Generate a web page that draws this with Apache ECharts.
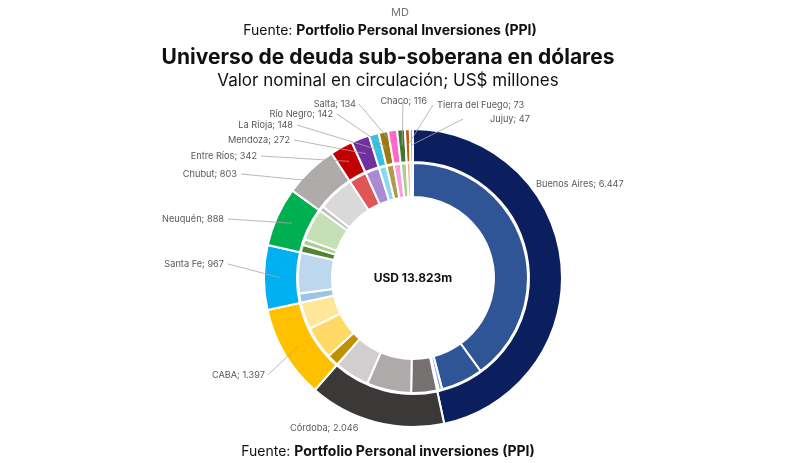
<!DOCTYPE html>
<html>
<head>
<meta charset="utf-8">
<script src="https://cdn.jsdelivr.net/npm/echarts@6/dist/echarts.min.js"></script>
<style>
  html, body { margin: 0; padding: 0; background: #fff; }
  #chart { width: 800px; height: 463px; }
</style>
</head>
<body>
<div id="chart"></div>
<script>
// provincias (anillo exterior), sentido horario desde arriba
var provinces = ['Buenos Aires', 'Córdoba', 'CABA', 'Santa Fe', 'Neuquén', 'Chubut', 'Entre Ríos',
    'Mendoza', 'La Rioja', 'Río Negro', 'Salta', 'Chaco', 'Tierra del Fuego', 'Jujuy'];
var totals = [6447, 2046, 1397, 967, 888, 803, 342, 272, 148, 142, 134, 116, 73, 47];
var outerColors = ['#0b1f5e', '#3b3838', '#ffc000', '#00b0f0', '#00b050', '#afabab', '#c00000',
    '#7030a0', '#33c3e0', '#9c7a10', '#ff66cc', '#3e7a2c', '#c55a11', '#d47ee6'];

// emisiones de cada provincia (anillo interior), estimadas del grafico
var bonds = [
    [5529, 818, 70, 30],
    [500, 864, 682],
    [234, 637, 526],
    [177, 790],
    [154, 115, 619],
    [96, 707],
    [342], [272], [148], [142], [134], [116], [73], [47]
];
var bondColors = [
    ['#2f5597', '#2f5597', '#8faadc', '#b4c7e7'],
    ['#767171', '#aeaaaa', '#d0cece'],
    ['#bf9000', '#ffd966', '#ffe699'],
    ['#9dc3e6', '#bdd7ee'],
    ['#548235', '#a9d18e', '#c5e0b4'],
    ['#bfbfbf', '#d9d9d9'],
    ['#e05656'], ['#a98bd3'], ['#8ad9ee'], ['#b39a4a'], ['#ff99e0'], ['#a9d18e'], ['#f4b183'], ['#e8b4f2']
];

var totalLabel = 'USD 13.823m';

// donde va cada etiqueta: [x, y, align, fin de la linea (x) o null sin linea]
var labelSpots = [
    [536, 184, 'left', null],
    [290, 428, 'left', null],
    [265, 375, 'right', 268],
    [224, 264, 'right', 228],
    [224, 219, 'right', 228],
    [237, 174, 'right', 241],
    [257, 156, 'right', 261],
    [290, 140, 'right', 294],
    [293, 125, 'right', 297],
    [333, 114, 'right', 337],
    [356, 104, 'right', 359],
    [427, 101, 'right', 403],
    [437, 105, 'left', 433],
    [530, 119, 'right', 463]
];

var cx = 413, cy = 278;
var rOuter = [116, 149], rInner = [81, 115];

function fmt(v) {
    return String(v).replace(/\B(?=(\d{3})+(?!\d))/g, '.');
}

var outerData = [], labelData = [];
for (var i = 0; i < provinces.length; i++) {
    outerData.push({ name: provinces[i], value: totals[i], itemStyle: { color: outerColors[i] } });
    labelData.push({ name: provinces[i], value: totals[i] });
}

var innerData = [];
for (var i = 0; i < bonds.length; i++) {
    for (var j = 0; j < bonds[i].length; j++) {
        innerData.push({
            name: provinces[i] + ' ' + (j + 1),
            value: bonds[i][j],
            itemStyle: { color: bondColors[i][j] }
        });
    }
}

// angulo medio de cada provincia, para que la linea entre en el sector
var midAngles = [];
var acc = 0, sum = 0;
for (var i = 0; i < totals.length; i++) sum += totals[i];
for (var i = 0; i < totals.length; i++) {
    midAngles.push((acc + totals[i] / 2) / sum * Math.PI * 2);
    acc += totals[i];
}

var chart = echarts.init(document.getElementById('chart'));

var option = {
    backgroundColor: '#fff',
    textStyle: { fontFamily: 'Inter' },
    animation: false,
    graphic: [
        { type: 'text', x: 400, y: 13, style: { text: 'MD', fill: '#777', font: '11px Inter', align: 'center', verticalAlign: 'middle' } },
        {
            type: 'text', x: 390, y: 31,
            style: {
                text: '{a|Fuente: }{b|Portfolio Personal Inversiones (PPI)}',
                align: 'center', verticalAlign: 'middle',
                rich: {
                    a: { fontFamily: 'Inter', fontSize: 14, fill: '#111' },
                    b: { fontFamily: 'Inter', fontSize: 14, fontWeight: 'bold', fill: '#111' }
                }
            }
        },
        { type: 'text', x: 388, y: 58, style: { text: 'Universo de deuda sub-soberana en dólares', fill: '#111', font: 'bold 21px Inter', align: 'center', verticalAlign: 'middle' } },
        { type: 'text', x: 388, y: 81, style: { text: 'Valor nominal en circulación; US$ millones', fill: '#111', font: '17px Inter', align: 'center', verticalAlign: 'middle' } },
        {
            type: 'text', x: 388, y: 452,
            style: {
                text: '{a|Fuente: }{b|Portfolio Personal inversiones (PPI)}',
                align: 'center', verticalAlign: 'middle',
                rich: {
                    a: { fontFamily: 'Inter', fontSize: 14, fill: '#111' },
                    b: { fontFamily: 'Inter', fontSize: 14, fontWeight: 'bold', fill: '#111' }
                }
            }
        },
        { type: 'text', x: cx, y: cy, style: { text: totalLabel, fill: '#111', font: 'bold 12px Inter', align: 'center', verticalAlign: 'middle' } }
    ],
    series: [
        {
            type: 'pie',
            center: [cx, cy],
            radius: rOuter,
            startAngle: 90,
            clockwise: true,
            z: 2,
            itemStyle: { borderColor: '#fff', borderWidth: 2 },
            label: { show: false },
            labelLine: { show: false },
            emphasis: { disabled: true },
            data: outerData
        },
        {
            type: 'pie',
            center: [cx, cy],
            radius: rInner,
            startAngle: 90,
            clockwise: true,
            z: 2,
            itemStyle: { borderColor: '#fff', borderWidth: 2 },
            label: { show: false },
            labelLine: { show: false },
            emphasis: { disabled: true },
            data: innerData
        },
        {
            // misma serie exterior, transparente, solo para etiquetas y lineas por encima
            type: 'pie',
            center: [cx, cy],
            radius: rOuter,
            startAngle: 90,
            clockwise: true,
            z: 5,
            silent: true,
            avoidLabelOverlap: false,
            itemStyle: { color: 'rgba(0,0,0,0)', borderWidth: 0 },
            label: {
                show: true,
                position: 'outside',
                color: '#595959',
                fontSize: 9.2,
                fontFamily: 'Inter',
                formatter: function (p) { return p.name + '; ' + fmt(p.value); }
            },
            labelLine: { show: true, smooth: false, lineStyle: { color: '#a6a6a6', width: 0.8 } },
            labelLayout: function (params) {
                var s = labelSpots[params.dataIndex];
                var out = { x: s[0], y: s[1], align: s[2], verticalAlign: 'middle' };
                if (s[3] === null) {
                    out.labelLinePoints = [[s[0], s[1]], [s[0], s[1]], [s[0], s[1]]];
                } else {
                    var a = midAngles[params.dataIndex];
                    var r = 133;
                    var ax = cx + Math.sin(a) * r, ay = cy - Math.cos(a) * r;
                    out.labelLinePoints = [[ax, ay], [s[3], s[1]], [s[3], s[1]]];
                }
                return out;
            },
            emphasis: { disabled: true },
            data: labelData
        }
    ]
};

chart.setOption(option);
</script>
</body>
</html>
